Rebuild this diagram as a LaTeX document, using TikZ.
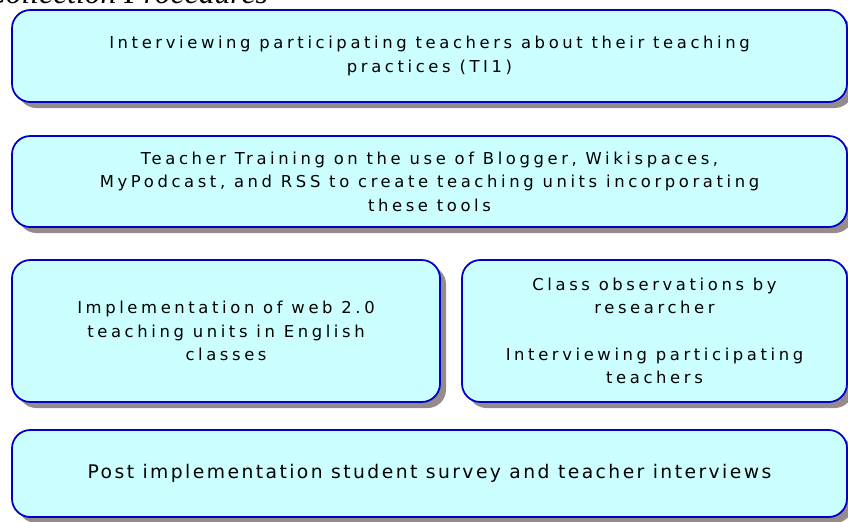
\documentclass[tikz,border=0pt]{standalone}
\usepackage{fontspec}
\setmainfont{DejaVu Sans}[LetterSpace=22]
\newfontfamily\widefont{DejaVu Sans}[LetterSpace=13]
\newfontfamily\headfont{Liberation Serif}
\usetikzlibrary{shadows}
\definecolor{boxfill}{RGB}{204,255,255}
\definecolor{boxline}{RGB}{0,0,204}
\definecolor{shadegray}{RGB}{150,138,138}
\tikzset{%
    stage/.style={%
        draw=boxline, line width=1.5pt, fill=boxfill,
        rounded corners=0.55cm, align=center, inner sep=0pt,
        font=\fontsize{14}{20}\selectfont,
        drop shadow={fill=shadegray, opacity=1,
            shadow xshift=0.18cm, shadow yshift=-0.18cm}
    }
}

\begin{document}
\begin{tikzpicture}
    \useasboundingbox (0,0) rectangle (25.44,-15.63);
    \node[anchor=base east, font=\headfont\itshape\fontsize{27}{30}\selectfont]
        (heading) at (8.16,-0.09) {Collection Procedures};
    \node[stage, minimum width=25.05cm, minimum height=2.76cm]
        (interview) at (12.885,-1.68)
        {Interviewing participating teachers about their teaching\\practices (TI1)};
    \node[stage, minimum width=25.05cm, minimum height=2.73cm]
        (training) at (12.885,-5.445)
        {Teacher Training on the use of Blogger, Wikispaces,\\MyPodcast, and RSS to create teaching units incorporating\\these tools};
    \node[stage, minimum width=12.84cm, minimum height=4.26cm]
        (implement) at (6.78,-9.93)
        {Implementation of web 2.0\\teaching units in English\\classes};
    \node[stage, minimum width=11.55cm, minimum height=4.26cm]
        (observe) at (19.635,-9.93)
        {Class observations by\\researcher\\[20pt]Interviewing participating\\teachers};
    \node[stage, minimum width=25.05cm, minimum height=2.61cm,
        font=\widefont\fontsize{16}{20}\selectfont]
        (survey) at (12.885,-14.205)
        {Post implementation student survey and teacher interviews};
\end{tikzpicture}
\end{document}
